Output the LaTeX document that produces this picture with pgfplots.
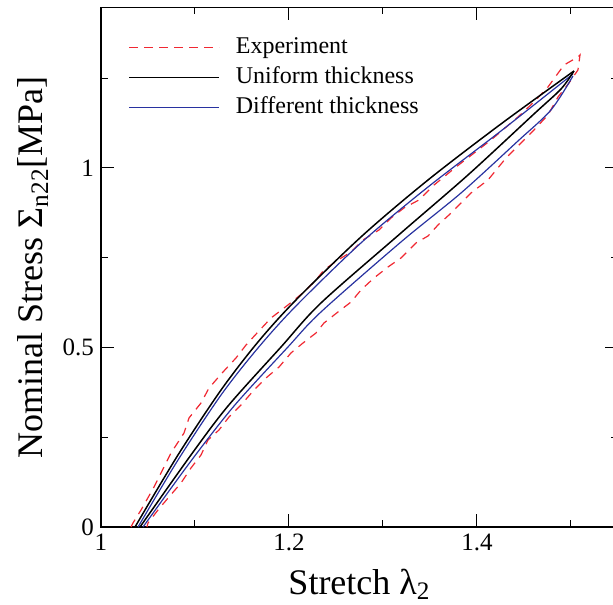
\documentclass[border=0pt]{standalone}
\usepackage{fontspec}
\setmainfont{Liberation Serif}
\usepackage{pgfplots}
\pgfplotsset{compat=1.18}
\definecolor{expred}{RGB}{240,40,50}
\definecolor{modblue}{RGB}{40,50,160}
\begin{document}
\begin{tikzpicture}
\begin{axis}[
  scale only axis,
  width=258.5pt, height=259.75pt,
  xmin=1, xmax=1.55, ymin=0, ymax=1.447,
  xtick={1,1.2,1.4}, minor xtick={1.1,1.3,1.5},
  ytick={0,0.5,1}, minor ytick={0.25,0.75,1.25},
  xticklabels={1,1.2,1.4}, yticklabels={0,0.5,1},
  /pgf/number format/assume math mode=true,
  tick align=inside,
  major tick length=6.5pt, minor tick length=3.5pt,
  tick style={black, line width=0.5pt},
  axis line style={line width=0.6pt},
  ticklabel style={font=\fontsize{12.5}{14}\selectfont},
  xlabel={Stretch λ\textsubscript{2}},
  ylabel={Nominal Stress Σ\textsubscript{n22}[MPa]},
  every axis x label/.style={at={(axis description cs:0.5,-0.129)}, anchor=base, font=\fontsize{18}{20}\selectfont},
  every axis y label/.style={at={(axis description cs:-0.1122,0.5)}, anchor=base, rotate=90, font=\fontsize{18}{20}\selectfont},
  legend cell align=left,
  legend image code/.code={\draw[#1] (0pt,0pt) -- (45pt,0pt);},
  legend style={draw=none, fill=none, inner sep=0pt,
    at={(axis description cs:0.0522,0.945)}, anchor=north west,
    font=\fontsize{12}{14}\selectfont, row sep=4pt,
    nodes={inner sep=0pt, text height=8.5pt, text depth=2.5pt},
    /tikz/every odd column/.append style={column sep=8pt}},
]
\addlegendimage{expred, line width=0.6pt, dash pattern=on 4.2pt off 3.3pt}
\addlegendentry{Experiment}
\addlegendimage{black, line width=0.75pt}
\addlegendentry{Uniform thickness}
\addlegendimage{modblue, line width=0.6pt}
\addlegendentry{Different thickness}
\addplot[expred, line width=0.6pt, dash pattern=on 4.2pt off 3.3pt, forget plot] coordinates {
(1.0319,0) (1.0340,0.0111) (1.0426,0.0474) (1.0564,0.1114) (1.0745,0.2061)
(1.0883,0.2618) (1.0936,0.3036) (1.1064,0.3454) (1.1149,0.3872) (1.1298,0.4318)
(1.1436,0.4708) (1.1543,0.5070) (1.1670,0.5432) (1.1809,0.5822) (1.1989,0.6184)
(1.2160,0.6546) (1.2287,0.6880) (1.2372,0.7159) (1.2521,0.7437) (1.2660,0.7660)
(1.2787,0.7994) (1.2957,0.8273) (1.3085,0.8607) (1.3223,0.8886) (1.3383,0.9109)
(1.3543,0.9526) (1.3777,1.0028) (1.4011,1.0501) (1.4149,1.0780) (1.4436,1.1421)
(1.4606,1.1838) (1.4755,1.2256) (1.4926,1.2869) (1.5074,1.3092) (1.5096,1.3148)
(1.5074,1.2730) (1.4979,1.2368) (1.4862,1.1978) (1.4755,1.1476) (1.4606,1.1058)
(1.4468,1.0696) (1.4309,1.0279) (1.4117,0.9666) (1.3936,0.9304) (1.3809,0.8969)
(1.3702,0.8691) (1.3585,0.8412) (1.3479,0.8106) (1.3351,0.7911) (1.3191,0.7493)
(1.3053,0.7242) (1.2904,0.6936) (1.2766,0.6602) (1.2660,0.6267) (1.2521,0.5989)
(1.2372,0.5682) (1.2287,0.5404) (1.2149,0.5125) (1.2021,0.4847) (1.1894,0.4457)
(1.1755,0.4150) (1.1628,0.3816) (1.1489,0.3398) (1.1362,0.3064) (1.1255,0.2702)
(1.1138,0.2423) (1.1064,0.2006) (1.0957,0.1643) (1.0851,0.1226) (1.0723,0.0836)
(1.0606,0.0474) (1.0500,0.0111) (1.0489,0)
};
\addplot[black, line width=0.75pt, smooth, tension=0.5, forget plot] coordinates {
(1.0362,0) (1.0819,0.2006) (1.1277,0.3816) (1.1670,0.5153) (1.2074,0.6323)
(1.2777,0.8106) (1.3479,0.9666) (1.4255,1.1226) (1.5032,1.2702)
};
\addplot[modblue, line width=0.6pt, smooth, tension=0.5, forget plot] coordinates {
(1.0394,0) (1.0819,0.1866) (1.1277,0.3677) (1.1670,0.4986) (1.2074,0.6156)
(1.2777,0.7939) (1.3479,0.9471) (1.4255,1.1031) (1.5021,1.2618)
};
\addplot[black, line width=0.75pt, smooth, tension=0.5, forget plot] coordinates {
(1.0415,0) (1.0957,0.2006) (1.1351,0.3370) (1.1915,0.5014) (1.2340,0.6240)
(1.3191,0.8189) (1.3904,0.9805) (1.4606,1.1504) (1.4894,1.2201) (1.5032,1.2702)
};
\addplot[modblue, line width=0.6pt, smooth, tension=0.5, forget plot] coordinates {
(1.0447,0) (1.0957,0.1838) (1.1415,0.3370) (1.1979,0.4986) (1.2340,0.5989)
(1.3191,0.7939) (1.3830,0.9304) (1.4436,1.0752) (1.4787,1.1616) (1.5021,1.2563)
};
\end{axis}
\pgfresetboundingbox
\path[use as bounding box] ([xshift=-50.5pt,yshift=-38.5pt]current axis.south west) rectangle ([xshift=256pt,yshift=3.75pt]current axis.north west);
\end{tikzpicture}
\end{document}
